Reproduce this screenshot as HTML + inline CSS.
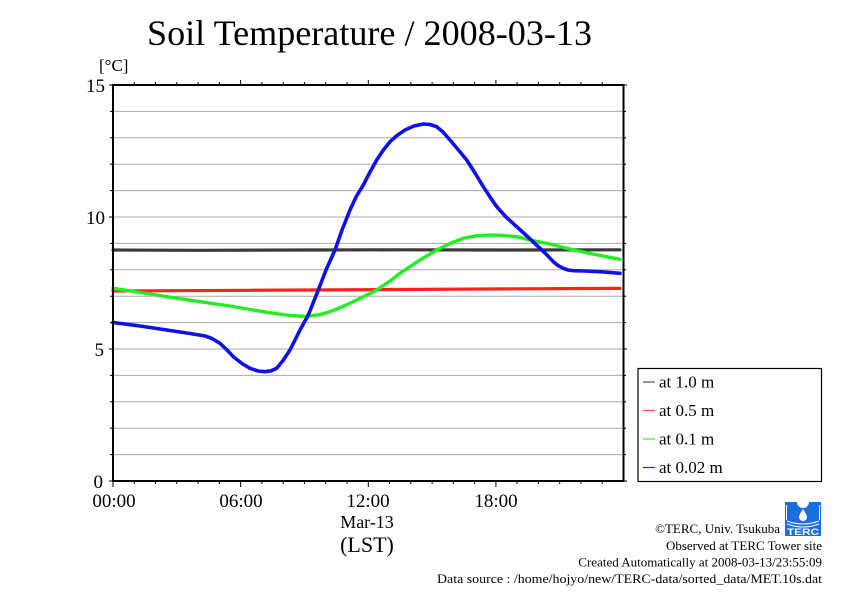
<!DOCTYPE html>
<html>
<head>
<meta charset="utf-8">
<style>
html,body{margin:0;padding:0;background:#fff;}
svg{display:block;}
text{font-family:"Liberation Serif","DejaVu Serif",serif;fill:#000;}
</style>
</head>
<body>
<svg width="842" height="595" viewBox="0 0 842 595" xmlns="http://www.w3.org/2000/svg">
<rect width="842" height="595" fill="#fff"/>
<!-- title -->
<text x="369.5" y="45" font-size="36" text-anchor="middle" textLength="445" lengthAdjust="spacingAndGlyphs">Soil Temperature / 2008-03-13</text>
<text x="99" y="71" font-size="17">[°C]</text>

<!-- gridlines -->
<g stroke="#aaaaaa" stroke-width="1">
<line x1="113" x2="623" y1="111.4" y2="111.4"/>
<line x1="113" x2="623" y1="137.8" y2="137.8"/>
<line x1="113" x2="623" y1="164.2" y2="164.2"/>
<line x1="113" x2="623" y1="190.6" y2="190.6"/>
<line x1="113" x2="623" y1="217" y2="217"/>
<line x1="113" x2="623" y1="243.4" y2="243.4"/>
<line x1="113" x2="623" y1="269.8" y2="269.8"/>
<line x1="113" x2="623" y1="296.2" y2="296.2"/>
<line x1="113" x2="623" y1="322.6" y2="322.6"/>
<line x1="113" x2="623" y1="349" y2="349"/>
<line x1="113" x2="623" y1="375.4" y2="375.4"/>
<line x1="113" x2="623" y1="401.8" y2="401.8"/>
<line x1="113" x2="623" y1="428.2" y2="428.2"/>
<line x1="113" x2="623" y1="454.6" y2="454.6"/>
</g>

<!-- ticks -->
<g stroke="#000" stroke-width="1">
<!-- y ticks left & right -->
<line x1="109" x2="113" y1="85" y2="85"/><line x1="623" x2="627" y1="85" y2="85"/>
<line x1="110" x2="113" y1="111.4" y2="111.4"/><line x1="623" x2="626" y1="111.4" y2="111.4"/>
<line x1="110" x2="113" y1="137.8" y2="137.8"/><line x1="623" x2="626" y1="137.8" y2="137.8"/>
<line x1="110" x2="113" y1="164.2" y2="164.2"/><line x1="623" x2="626" y1="164.2" y2="164.2"/>
<line x1="110" x2="113" y1="190.6" y2="190.6"/><line x1="623" x2="626" y1="190.6" y2="190.6"/>
<line x1="109" x2="113" y1="217" y2="217"/><line x1="623" x2="627" y1="217" y2="217"/>
<line x1="110" x2="113" y1="243.4" y2="243.4"/><line x1="623" x2="626" y1="243.4" y2="243.4"/>
<line x1="110" x2="113" y1="269.8" y2="269.8"/><line x1="623" x2="626" y1="269.8" y2="269.8"/>
<line x1="110" x2="113" y1="296.2" y2="296.2"/><line x1="623" x2="626" y1="296.2" y2="296.2"/>
<line x1="110" x2="113" y1="322.6" y2="322.6"/><line x1="623" x2="626" y1="322.6" y2="322.6"/>
<line x1="109" x2="113" y1="349" y2="349"/><line x1="623" x2="627" y1="349" y2="349"/>
<line x1="110" x2="113" y1="375.4" y2="375.4"/><line x1="623" x2="626" y1="375.4" y2="375.4"/>
<line x1="110" x2="113" y1="401.8" y2="401.8"/><line x1="623" x2="626" y1="401.8" y2="401.8"/>
<line x1="110" x2="113" y1="428.2" y2="428.2"/><line x1="623" x2="626" y1="428.2" y2="428.2"/>
<line x1="110" x2="113" y1="454.6" y2="454.6"/><line x1="623" x2="626" y1="454.6" y2="454.6"/>
<line x1="109" x2="113" y1="481" y2="481"/><line x1="623" x2="627" y1="481" y2="481"/>
</g>
<g stroke="#000" stroke-width="1" id="xt">
<!-- hourly ticks top (up) and bottom (down) -->
<path d="M134.3 85v-3M155.5 85v-3M176.8 85v-3M198.1 85v-3M219.4 85v-3M240.6 85v-5M261.9 85v-3M283.2 85v-3M304.4 85v-3M325.7 85v-3M347 85v-3M368.3 85v-5M389.5 85v-3M410.8 85v-3M432.1 85v-3M453.3 85v-3M474.6 85v-3M495.9 85v-5M517.1 85v-3M538.4 85v-3M559.7 85v-3M581 85v-3M602.2 85v-3"/>
<path d="M113 481v6M134.3 481v3M155.5 481v3M176.8 481v3M198.1 481v3M219.4 481v3M240.6 481v6M261.9 481v3M283.2 481v3M304.4 481v3M325.7 481v3M347 481v3M368.3 481v6M389.5 481v3M410.8 481v3M432.1 481v3M453.3 481v3M474.6 481v3M495.9 481v6M517.1 481v3M538.4 481v3M559.7 481v3M581 481v3M602.2 481v3"/>
</g>

<!-- data series -->
<g fill="none" stroke-linejoin="round" stroke-linecap="round">
<polyline stroke="#3a3a3a" stroke-width="3.2" points="113,250 200,250.3 300,250 400,249.8 500,250 620,249.8"/>
<polyline stroke="#ff2020" stroke-width="3.2" points="113,291 250,290.3 400,289.5 520,288.8 620,288.4"/>
<polyline stroke="#22ee22" stroke-width="3.4" points="113,288.3 150,294 166.7,296.7 200,301.7 230,306 250,309.5 270,312.8 290,315.5 306.7,316.5 320,314.6 333.3,310.5 345,305.5 356.7,300 376.7,290 390,281 400,273.3 420,260 436.7,250 450,243.5 463.3,238.3 476,235.8 490,235 503,235.5 516.7,236.7 530,240 550,244 566.7,248.3 590,253.5 620,259.3"/>
<polyline stroke="#1010ee" stroke-width="3.6" points="113,322.5 140,326 166.7,330 190,333.5 205,336 212,338.5 220,343.3 227,350 233.3,356.7 242,363.5 250,368.3 258,371 265,371.7 271,370.8 276.7,368.3 283,360.5 290,350 300,330 308.3,315 318.3,290 326,270 335,250 342,230 350,210 356,197 363.3,185 370,172 376.7,160 383,150.5 390,141.7 397,135.5 405,130 414,126 423.3,124 430,124.5 436.7,126.7 443,132 450,140 458,149.5 466.7,160 475,173 483.3,186.7 490,197 496.7,206.7 506,217 516.7,226.7 528,237 540,248.3 547,255 553.3,261.7 558,265.5 563.3,268.3 568,270 573.3,270.7 585,271 600,271.7 610,272.5 620,273.3"/>
</g>

<!-- frame -->
<rect x="113" y="85" width="510.5" height="396" fill="none" stroke="#000" stroke-width="2"/>

<!-- y labels -->
<g font-size="19" text-anchor="end">
<text x="105" y="92">15</text>
<text x="105" y="224">10</text>
<text x="104" y="356">5</text>
<text x="103" y="488">0</text>
</g>
<!-- x labels -->
<g font-size="19" text-anchor="middle">
<text x="114" y="507">00:00</text>
<text x="241" y="507">06:00</text>
<text x="368" y="507">12:00</text>
<text x="496" y="507">18:00</text>
<text x="367" y="528" font-size="18">Mar-13</text>
<text x="367" y="552" font-size="22">(LST)</text>
</g>

<!-- legend -->
<rect x="638" y="368.5" width="183.5" height="113" fill="#fff" stroke="#000" stroke-width="1.2"/>
<g stroke-width="1.2">
<line x1="643" x2="655" y1="382" y2="382" stroke="#555"/>
<line x1="643" x2="655" y1="410.5" y2="410.5" stroke="#ff4444"/>
<line x1="643" x2="655" y1="439" y2="439" stroke="#33ee33"/>
<line x1="643" x2="655" y1="467.5" y2="467.5" stroke="#2222ee"/>
</g>
<g font-size="17">
<text x="659" y="387.5">at 1.0 m</text>
<text x="659" y="416">at 0.5 m</text>
<text x="659" y="444.5">at 0.1 m</text>
<text x="659" y="473">at 0.02 m</text>
</g>

<!-- footer -->
<g font-size="13" text-anchor="end">
<text x="780" y="533">©TERC, Univ. Tsukuba</text>
<text x="822" y="550">Observed at TERC Tower site</text>
<text x="822" y="566.5">Created Automatically at 2008-03-13/23:55:09</text>
<text x="822" y="583" textLength="385" lengthAdjust="spacingAndGlyphs">Data source : /home/hojyo/new/TERC-data/sorted_data/MET.10s.dat</text>
</g>

<!-- logo -->
<g>
<rect x="785" y="502" width="36" height="34" fill="#1a6fe0"/>
<circle cx="803" cy="502" r="6" fill="#fff"/>
<path d="M803 509 q-4 6 -4 8 a4 4 0 0 0 8 0 q0 -2 -4 -8z" fill="#fff"/>
<path d="M787 521 q16 6 32 0" stroke="#fff" stroke-width="1" fill="none"/>
<path d="M787 524 q16 6 32 0" stroke="#fff" stroke-width="1" fill="none"/>
<line x1="786.5" y1="505" x2="786.5" y2="520" stroke="#fff" stroke-width="1"/>
<line x1="819.5" y1="505" x2="819.5" y2="520" stroke="#fff" stroke-width="1"/>
<text x="803" y="535" font-size="9" font-weight="bold" text-anchor="middle" style="fill:#fff;font-family:'Liberation Sans',sans-serif" textLength="32" lengthAdjust="spacingAndGlyphs">TERC</text>
</g>
</svg>
</body>
</html>
